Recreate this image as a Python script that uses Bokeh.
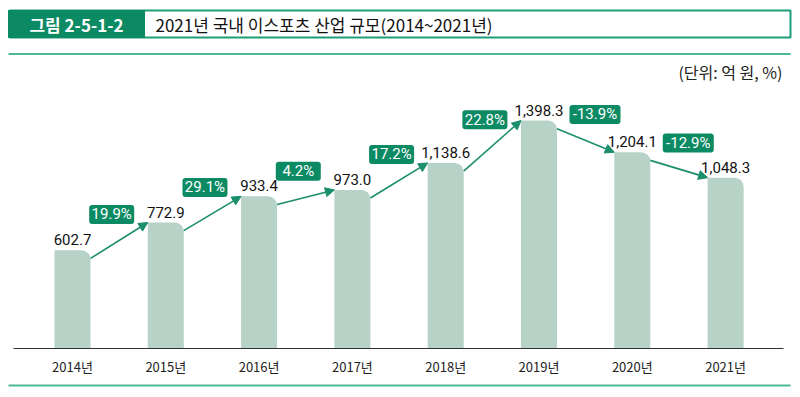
from bokeh.plotting import figure
from bokeh.models import Range1d, Arrow, NormalHead, ColumnDataSource
from bokeh.core.properties import value
from bokeh.embed import file_html
from bokeh.resources import INLINE

years = ["2014년", "2015년", "2016년", "2017년", "2018년", "2019년", "2020년", "2021년"]
sizes = [602.7, 772.9, 933.4, 973.0, 1138.6, 1398.3, 1204.1, 1048.3]
growth = [19.9, 29.1, 4.2, 17.2, 22.8, -13.9, -12.9]
fig_label = "그림 2-5-1-2"
title = "2021년 국내 이스포츠 산업 규모(2014~2021년)"
unit = "(단위: 억 원, %)"

W, H = 792, 389
SX = 93.3     # px per category
SY = 0.163    # px per unit value
X0 = 72       # page x of first category
BASE = 348    # page y of zero


def X(px):
    return (px - X0) / SX


def Y(py):
    return (BASE - py) / SY


KR = value("Noto Sans CJK KR")
NUM = value("Roboto")
GREEN = "#0b8a63"
BAR = "#b7d2c7"
ARROW = "#1b8e6c"

p = figure(width=W, height=H, output_backend="svg", toolbar_location=None,
           x_range=Range1d(X(0), X(W)), y_range=Range1d(Y(H), Y(0)),
           min_border=0, outline_line_color=None)
p.axis.visible = False
p.grid.visible = False
p.background_fill_color = "white"
p.border_fill_color = "white"

# header
p.quad(left=[X(9)], right=[X(790)], top=[Y(10)], bottom=[Y(37)],
       fill_color="white", line_color="#1f9d78", line_width=2)
p.quad(left=[X(8)], right=[X(144)], top=[Y(10)], bottom=[Y(37)],
       fill_color=GREEN, line_color=GREEN, line_width=1)
p.text(x=[X(76)], y=[Y(24)], text=[fig_label], text_font=KR, text_font_size="17px",
       text_font_style="bold", text_color="white", text_align="center", text_baseline="middle")
p.text(x=[X(155)], y=[Y(24)], text=[title], text_font=KR, text_font_size="17px",
       text_color="#111111", text_align="left", text_baseline="middle")
p.line(x=[X(8), X(790)], y=[Y(53.5), Y(53.5)], line_color="#4bb896", line_width=2)
p.line(x=[X(8), X(790)], y=[Y(385), Y(385)], line_color="#4bb896", line_width=2)
p.text(x=[X(782)], y=[Y(71)], text=[unit], text_font=KR, text_font_size="16px",
       text_color="#222222", text_align="right", text_baseline="middle")

# bars
idx = list(range(len(years)))
bw = 36 / SX
src = ColumnDataSource(dict(x=idx, top=sizes, years=years,
                            lab=[f"{v:,.1f}" for v in sizes]))
p.vbar(x="x", top="top", bottom=0, width=bw, source=src, fill_color=BAR,
       line_color=None, border_radius=(0, 9, 0, 0))

# baseline
p.line(x=[X(13), X(783)], y=[0, 0], line_color="#333333", line_width=1)

# value labels
p.text(x="x", y="top", text="lab", source=src, text_font=NUM, text_font_size="15px",
       text_color="#111111", text_align="center", text_baseline="bottom", y_offset=-5)
# year labels
p.text(x="x", y=Y(366), text="years", source=src, text_font=KR, text_font_size="13px",
       text_color="#222222", text_align="center", text_baseline="middle")

# arrows and growth boxes
bx, by, bt, bwid = [], [], [], []
for i, g in enumerate(growth):
    a, b = sizes[i], sizes[i + 1]
    p.add_layout(Arrow(x_start=i + bw / 2, y_start=a - 50, x_end=i + 1 - bw / 2, y_end=b,
                       line_color=ARROW, line_width=1.6,
                       end=NormalHead(size=9, fill_color=ARROW, line_color=ARROW)))
    bx.append(i + 0.5 + (-0.08 if g > 0 else 0.1))
    by.append((a + b) / 2 + 22 / SY)
    t = f"{g:.1f}%"
    bt.append(t)
    bwid.append(max(45, 8.5 * len(t)))

gsrc = ColumnDataSource(dict(x=bx, y=by, t=bt, w=bwid))
p.rect(x="x", y="y", width="w", height=19, width_units="screen", height_units="screen",
       source=gsrc, fill_color=GREEN, line_color=None, border_radius=3)
p.text(x="x", y="y", text="t", source=gsrc, text_font=NUM, text_font_size="15px",
       text_color="white", text_align="center", text_baseline="middle")

open("out.html", "w").write(file_html(p, INLINE))
